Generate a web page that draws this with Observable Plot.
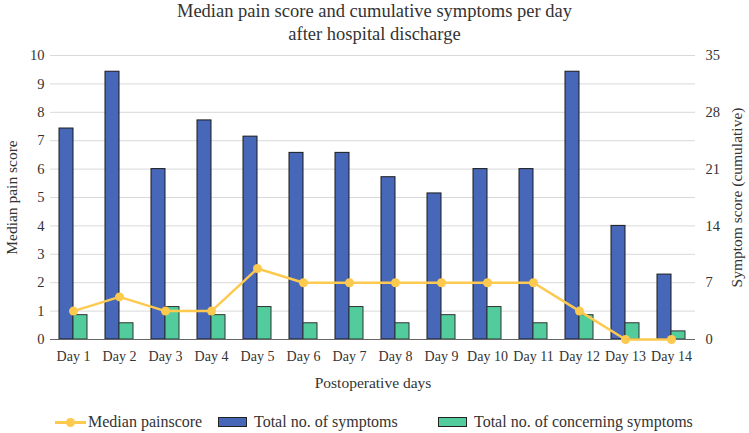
<!DOCTYPE html>
<html><head><meta charset="utf-8">
<script src="https://cdn.jsdelivr.net/npm/d3@7"></script>
<script src="https://cdn.jsdelivr.net/npm/@observablehq/plot@0.6"></script>
<style>
body{margin:0;background:#fff;font-family:'Liberation Serif','Times New Roman','DejaVu Serif',serif;color:#333;}
#wrap{position:relative;width:749px;height:433px;overflow:hidden;}
#title{text-align:center;font-size:18.5px;line-height:23px;height:46px;color:#333;}
#chart svg{display:block;}
#legend{position:absolute;left:0;top:411px;width:749px;height:22px;font-size:16px;}
.item{position:absolute;top:0;height:22px;line-height:22px;display:flex;align-items:center;white-space:nowrap;}
.sw{display:inline-block;width:29px;height:10px;border:1px solid #222;margin-right:7px;box-sizing:border-box;}
.ln{position:relative;display:inline-block;width:31px;height:22px;margin-right:2px;}
.ln:before{content:"";position:absolute;left:0;right:0;top:10px;height:2.5px;background:#FDC94E;}
.ln:after{content:"";position:absolute;left:11px;top:7px;width:9px;height:9px;border-radius:50%;background:#FDC94E;}
</style></head><body>
<div id="wrap">
<div id="title">Median pain score and cumulative symptoms per day<br>after hospital discharge</div>
<div id="chart"></div>
<div id="legend">
  <div class="item" style="left:55px"><span class="ln"></span>Median painscore</div>
  <div class="item" style="left:218px"><span class="sw" style="background:#4767B9"></span>Total no. of symptoms</div>
  <div class="item" style="left:438px"><span class="sw" style="background:#52CC9C"></span>Total no. of concerning symptoms</div>
</div>
</div>
<script>
const days = ["Day 1","Day 2","Day 3","Day 4","Day 5","Day 6","Day 7","Day 8","Day 9","Day 10","Day 11","Day 12","Day 13","Day 14"];
const totalSymptoms = [26,33,21,27,25,23,23,20,18,21,21,33,14,8];
const concerningSymptoms = [3,2,4,3,4,2,4,2,3,4,2,3,2,1];
const painScore = [1,1.5,1,1,2.5,2,2,2,2,2,2,1,0,0];
const leftTicks = [0,1,2,3,4,5,6,7,8,9,10];
const rightTicks = [0,7,14,21,28,35];
const ratio = 3.5; // right axis max 35 vs left axis max 10

const rows = days.map((d,i)=>({day:d,total:totalSymptoms[i],concern:concerningSymptoms[i],pain:painScore[i]}));
const font = "'Liberation Serif','Times New Roman','DejaVu Serif',serif";

const chart = Plot.plot({
  width:749, height:350,
  marginLeft:50, marginRight:54, marginTop:9, marginBottom:57,
  style:{fontFamily:font, fontSize:"14px", color:"#333", background:"#fff"},
  x:{domain:days, paddingInner:0.39, paddingOuter:0.195, label:null},
  y:{domain:[0,10], label:null},
  marks:[
    Plot.gridY(leftTicks,{stroke:"#d9d9d9", strokeOpacity:1}),
    Plot.barY(rows,{x:"day", y:d=>d.total/ratio, fill:"#4767B9", stroke:"#1a1a1a", strokeWidth:1, insetRight:14}),
    Plot.barY(rows,{x:"day", y:d=>d.concern/ratio, fill:"#52CC9C", stroke:"#333", strokeWidth:1, insetLeft:14}),
    Plot.ruleY([0],{stroke:"#666"}),
    Plot.line(rows,{x:"day", y:"pain", stroke:"#FDC94E", strokeWidth:2.5}),
    Plot.dot(rows,{x:"day", y:"pain", r:4.5, fill:"#FDC94E"}),
    Plot.axisX({tickSize:0, tickPadding:12, fontSize:14, fontFamily:font, label:null}),
    Plot.axisY(leftTicks,{anchor:"left", tickSize:0, tickPadding:6, fontSize:14.5, fontFamily:font, label:null}),
    Plot.axisY(rightTicks.map(t=>t/ratio),{anchor:"right", tickSize:0, tickPadding:10, fontSize:14.5, fontFamily:font, tickFormat:d=>String(Math.round(d*ratio)), label:null}),
    Plot.text(["Postoperative days"],{frameAnchor:"bottom", dy:48, fontSize:15.5, fontFamily:font, fill:"#333"}),
    Plot.text(["Median pain score"],{frameAnchor:"left", dx:-38, rotate:-90, textAnchor:"middle", fontSize:15.5, fontFamily:font, fill:"#333"}),
    Plot.text(["Symptom score (cumulative)"],{frameAnchor:"right", dx:42, rotate:-90, textAnchor:"middle", fontSize:15.5, fontFamily:font, fill:"#333"})
  ]
});
document.getElementById("chart").appendChild(chart);
</script>
</body></html>
